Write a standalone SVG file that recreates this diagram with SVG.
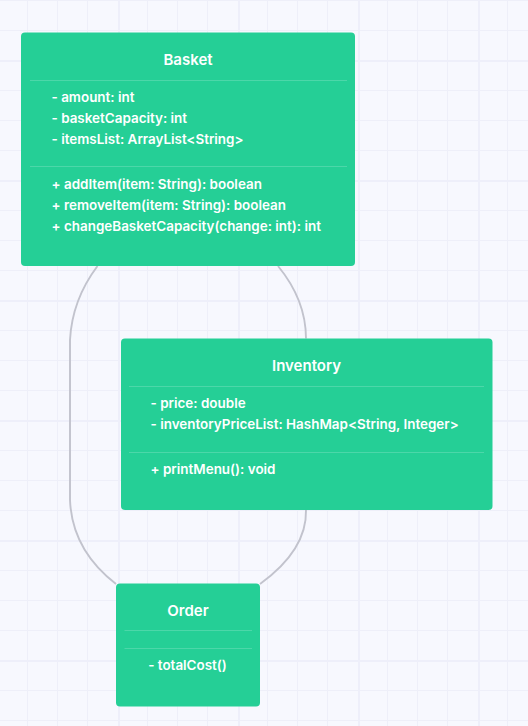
<svg xmlns="http://www.w3.org/2000/svg" width="528" height="726" viewBox="0 0 528 726">
  <style>
    .box { fill: #25cf96; }
    .div { stroke: #ffffff; stroke-opacity: 0.18; stroke-width: 1; }
    .title { font-family: Inter, "Noto Sans", "Liberation Sans", sans-serif; font-size: 15px; font-weight: 600; fill: #ffffff; text-anchor: middle; }
    .member { font-family: Inter, "Noto Sans", "Liberation Sans", sans-serif; font-size: 13.45px; font-weight: 600; fill: #ffffff; }
    .edge { fill: none; stroke: #c2c3cd; stroke-width: 1.9; }
  </style>
  <defs>
    <pattern id="grid" patternUnits="userSpaceOnUse" x="-2" y="60" width="120" height="120">
      <rect width="120" height="120" fill="#f7f8fe"/>
      <g fill="#eeeff9">
        <rect x="29" y="0" width="1" height="120"/>
        <rect x="59" y="0" width="1" height="120"/>
        <rect x="89" y="0" width="1" height="120"/>
        <rect x="0" y="30" width="120" height="1"/>
        <rect x="0" y="60" width="120" height="1"/>
        <rect x="0" y="90" width="120" height="1"/>
      </g>
      <g fill="#eeeffa">
        <rect x="0" y="0" width="2" height="120"/>
        <rect x="0" y="0" width="120" height="2"/>
      </g>
    </pattern>
  </defs>

  <rect width="528" height="726" fill="url(#grid)"/>

  <!-- associations between the classes -->
  <g id="connectors">
    <path class="edge" d="M 97.5 266 Q 72 300 70 340 L 70 500 Q 72 550 116 584"/>
    <path class="edge" d="M 278 266 Q 306 300 306 338.5"/>
    <path class="edge" d="M 306 510 Q 307 550 260 584"/>
  </g>

  <g id="basket">
    <rect class="box" x="21" y="32.5" width="334" height="233.5" rx="4"/>
    <text class="title" x="188" y="65">Basket</text>
    <line class="div" x1="30" y1="80.5" x2="347" y2="80.5"/>
    <text class="member" x="51.5" y="101.5">- amount: int</text>
    <text class="member" x="51.5" y="122.5">- basketCapacity: int</text>
    <text class="member" x="51.5" y="143.5">- itemsList: ArrayList&lt;String&gt;</text>
    <line class="div" x1="30" y1="166.5" x2="347" y2="166.5"/>
    <text class="member" x="51.5" y="188.5">+ addItem(item: String): boolean</text>
    <text class="member" x="51.5" y="209.5">+ removeItem(item: String): boolean</text>
    <text class="member" x="51.5" y="230.5">+ changeBasketCapacity(change: int): int</text>
  </g>

  <g id="inventory">
    <rect class="box" x="121" y="338.5" width="371.5" height="171.5" rx="4"/>
    <text class="title" x="306.5" y="371">Inventory</text>
    <line class="div" x1="129" y1="386.5" x2="484" y2="386.5"/>
    <text class="member" x="150.5" y="408">- price: double</text>
    <text class="member" x="150.5" y="429">- inventoryPriceList: HashMap&lt;String, Integer&gt;</text>
    <line class="div" x1="129" y1="452.5" x2="484" y2="452.5"/>
    <text class="member" x="150.5" y="474">+ printMenu(): void</text>
  </g>

  <g id="order">
    <rect class="box" x="116" y="583.5" width="144" height="123" rx="4"/>
    <text class="title" x="188" y="616">Order</text>
    <line class="div" x1="124.5" y1="630.5" x2="252" y2="630.5"/>
    <line class="div" x1="124.5" y1="648.5" x2="252" y2="648.5"/>
    <text class="member" x="187.5" y="670" text-anchor="middle">- totalCost()</text>
  </g>
</svg>
